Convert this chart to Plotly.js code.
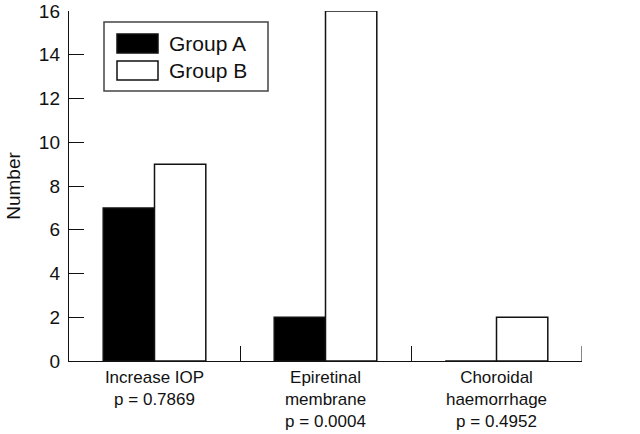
<!DOCTYPE html>
<html><head><meta charset="utf-8">
<script src="https://cdn.plot.ly/plotly-3.0.1.min.js"></script>
<style>html,body{margin:0;padding:0;background:#fff}#chart{width:640px;height:434px}</style>
</head><body><div id="chart"></div>
<script>
const categories = ["Increase IOP", "Epiretinal membrane", "Choroidal haemorrhage"];
const tickLabels = ["Increase IOP<br>p = 0.7869", "Epiretinal<br>membrane<br>p = 0.0004", "Choroidal<br>haemorrhage<br>p = 0.4952"];
const groupA = [7, 2, 0];
const groupB = [9, 16, 2];
const seriesNames = ["Group A", "Group B"];

const fam = "Liberation Sans, Arial, sans-serif";
const T = 11, B = 73, H = 434 - T - B, W = 640 - 69 - 58;
const px = p => (p - 69) / W;
const py = p => 1 - (p - T) / H;
const traces = [
  {type: "bar", name: seriesNames[0], x: categories, y: groupA,
   marker: {color: "#000", line: {color: "#111", width: 1.5}}},
  {type: "bar", name: seriesNames[1], x: categories, y: groupB,
   marker: {color: "#fff", line: {color: "#111", width: 1.5}}}
];
const layout = {
  width: 640, height: 434,
  margin: {l: 69, r: 58, t: T, b: B},
  paper_bgcolor: "#fff", plot_bgcolor: "#fff",
  font: {family: fam, size: 18, color: "#111"},
  showlegend: false,
  barmode: "group", bargap: 0.4, bargroupgap: 0,
  xaxis: {
    type: "category", range: [-0.5, 2.5],
    tickvals: categories, ticktext: tickLabels,
    tickson: "boundaries", ticks: "inside", ticklen: 15, tickwidth: 1, tickcolor: "#111",
    showline: true, linecolor: "#111", linewidth: 1.2, showgrid: false, zeroline: false,
    tickfont: {family: fam, size: 17, color: "#111"}
  },
  yaxis: {
    range: [0, 16], dtick: 2, ticklabeloverflow: "allow",
    ticks: "inside", ticklen: 15, tickwidth: 1, tickcolor: "#111", ticklabelstandoff: 4,
    showline: true, linecolor: "#111", linewidth: 1.2, showgrid: false, zeroline: false,
    tickfont: {family: fam, size: 19, color: "#111"},
    title: {text: "Number", font: {family: fam, size: 19, color: "#111"}, standoff: 13}
  },
  shapes: [
    {type: "line", xref: "x", yref: "paper", x0: 2.5, x1: 2.5, y0: 0, y1: 15/H,
     line: {color: "#111", width: 1}},
    {type: "rect", xref: "paper", yref: "paper", x0: px(104), x1: px(268), y0: py(22), y1: py(91),
     line: {color: "#444", width: 1.5}, fillcolor: "rgba(0,0,0,0)"},
    {type: "rect", xref: "paper", yref: "paper", x0: px(117), x1: px(158), y0: py(34), y1: py(53),
     line: {color: "#111", width: 1.5}, fillcolor: "#000"},
    {type: "rect", xref: "paper", yref: "paper", x0: px(117), x1: px(158), y0: py(61), y1: py(80),
     line: {color: "#111", width: 1.5}, fillcolor: "#fff"}
  ],
  annotations: [
    {xref: "paper", yref: "paper", x: px(167), y: py(43.5), xanchor: "left", yanchor: "middle",
     text: seriesNames[0], showarrow: false, font: {family: fam, size: 21, color: "#111"}},
    {xref: "paper", yref: "paper", x: px(167), y: py(70.5), xanchor: "left", yanchor: "middle",
     text: seriesNames[1], showarrow: false, font: {family: fam, size: 21, color: "#111"}}
  ]
};
Plotly.newPlot("chart", traces, layout, {displayModeBar: false, staticPlot: true});
</script></body></html>
